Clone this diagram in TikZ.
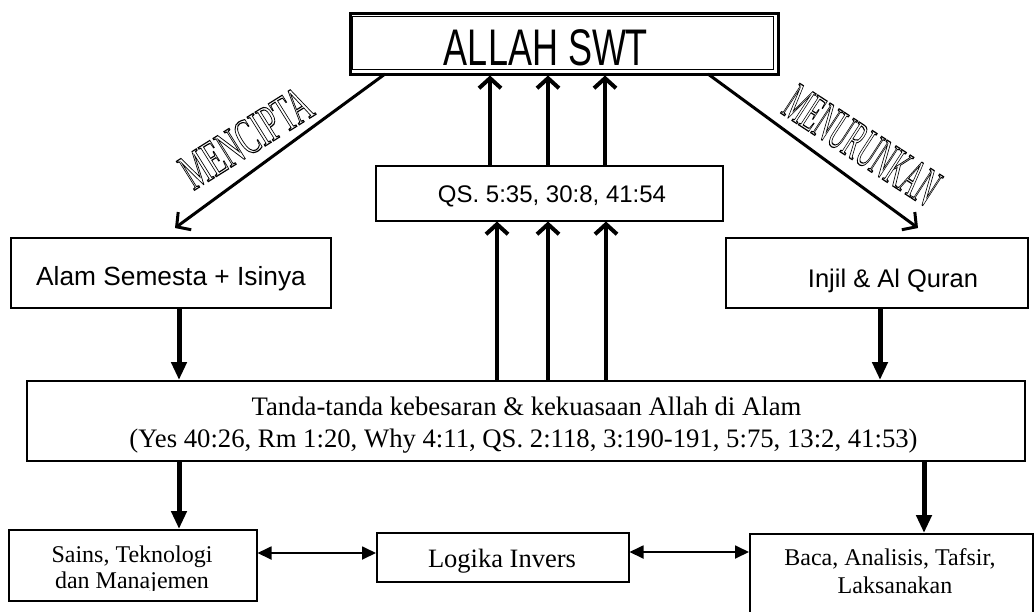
\documentclass[tikz,border=0pt]{standalone}
\usepackage{fontspec}
\setmainfont{Liberation Serif}
\setsansfont{Liberation Sans}
\usetikzlibrary{arrows.meta}
\newcommand{\outltext}[1]{\special{pdf:literal direct 1 Tr 0.9 w}#1\special{pdf:literal direct 0 Tr}}
\begin{document}
\begin{tikzpicture}[x=1pt,y=-1pt,
  box/.style={draw, line width=1.5pt, rectangle, inner sep=0pt, anchor=north west},
  sanstxt/.style={anchor=base, inner sep=0pt, font=\sffamily\fontsize{26.3}{26.3}\selectfont},
  seriftxt/.style={anchor=base, inner sep=0pt, font=\rmfamily\fontsize{24}{24}\selectfont},
  fatarrow/.style={line width=5pt, -{Triangle[length=18pt,width=15pt]}},
  uparrow/.style={line width=4pt, -{Straight Barb[length=10pt,width=22pt]}},
  diagarrow/.style={line width=3pt, -{Straight Barb[length=10pt,width=22pt]}},
  dblarrow/.style={line width=1.8pt, {Triangle[length=14pt,width=13pt]}-{Triangle[length=14pt,width=13pt]}},
  wordart/.style={inner sep=0pt, font=\rmfamily\fontsize{40}{40}\selectfont}
]
\useasboundingbox (0,0) rectangle (1034,611);

% ALLAH SWT double box
\node[box, line width=3pt, minimum width=428pt, minimum height=61pt] (allah) at (348.5,11.5) {};
\node[box, line width=1.2pt, minimum width=421pt, minimum height=53pt] (allahin) at (352,15.5) {};
\node[sanstxt] (allahtxt) at (546,65) {\scalebox{1}[1.43]{\fontsize{36}{36}\selectfont ALLAH SWT}};

% QS box
\node[box, minimum width=347pt, minimum height=55pt] (qs) at (375,165) {};
\node[sanstxt, font=\sffamily\fontsize{24}{24}\selectfont] (qstxt) at (552,202) {QS. 5:35, 30:8, 41:54};

% Alam and Injil
\node[box, minimum width=320pt, minimum height=70pt] (alam) at (10,237) {};
\node[sanstxt] (alamtxt) at (171,285) {Alam Semesta + Isinya};
\node[box, minimum width=302pt, minimum height=70pt] (injil) at (725,237) {};
\node[sanstxt, font=\sffamily\fontsize{25.5}{25.5}\selectfont] (injiltxt) at (893,287) {Injil \& Al Quran};

% Tanda box
\node[box, minimum width=998pt, minimum height=80pt] (tanda) at (26,380) {};
\node[seriftxt, font=\rmfamily\fontsize{26.7}{26.7}\selectfont] (tandaA) at (526.5,415) {Tanda-tanda kebesaran \& kekuasaan Allah di Alam};
\node[seriftxt, font=\rmfamily\fontsize{26.7}{26.7}\selectfont] (tandaB) at (523.5,447) {(Yes 40:26, Rm 1:20, Why 4:11, QS. 2:118, 3:190-191, 5:75, 13:2, 41:53)};

% Bottom boxes
\node[box, minimum width=248pt, minimum height=71pt] (sains) at (8,529) {};
\begin{scope}
  \clip (8,529) rectangle (256,590);
  \node[seriftxt] (sainsA) at (132,562) {Sains, Teknologi};
  \node[seriftxt] (sainsB) at (132,588) {dan Manajemen};
\end{scope}
\node[box, minimum width=252pt, minimum height=49pt] (logika) at (376,532) {};
\node[seriftxt, font=\rmfamily\fontsize{26.5}{26.5}\selectfont] (logikatxt) at (502,567) {Logika Invers};
\node[box, minimum width=283pt, minimum height=95pt] (baca) at (749,533) {};
\node[seriftxt] (bacaA) at (890,565) {Baca, Analisis, Tafsir,};
\node[seriftxt] (bacaB) at (895,593) {Laksanakan};

% x positions of vertical connectors
\coordinate (xl) at (179,0);
\coordinate (xr) at (880,0);
\coordinate (xbr) at (924,0);
\coordinate (u1) at (490,0);
\coordinate (u2) at (548,0);
\coordinate (u3) at (605,0);
\coordinate (l1) at (497,0);
\coordinate (l2) at (548,0);
\coordinate (l3) at (606,0);
\coordinate (mcs) at (385,74);
\coordinate (mce) at (175,228);
\coordinate (mrs) at (708,74);
\coordinate (mre) at (918,228);

% Fat arrows
\draw[fatarrow] (alam.south -| xl) -- (tanda.north -| xl);
\draw[fatarrow] (injil.south -| xr) -- (tanda.north -| xr);
\draw[fatarrow] (tanda.south -| xl) -- (sains.north -| xl);
\draw[fatarrow] (tanda.south -| xbr) -- (baca.north -| xbr);

% Up arrows
\draw[uparrow] (qs.north -| u1) -- (allah.south -| u1);
\draw[uparrow] (qs.north -| u2) -- (allah.south -| u2);
\draw[uparrow] (qs.north -| u3) -- (allah.south -| u3);
\draw[uparrow] (tanda.north -| l1) -- (qs.south -| l1);
\draw[uparrow] (tanda.north -| l2) -- (qs.south -| l2);
\draw[uparrow] (tanda.north -| l3) -- (qs.south -| l3);

% Diagonal arrows
\draw[diagarrow] (mcs) -- (mce);
\draw[diagarrow] (mrs) -- (mre);
\node[wordart, rotate=32] (mencipta) at (246,138) {\scalebox{0.72}[1.3]{\outltext{MENCIPTA}}};
\node[wordart, rotate=-33] (menurunkan) at (862,145) {\scalebox{0.6}[1.35]{\outltext{MENURUNKAN}}};

% Double arrows
\draw[dblarrow] (sains.east |- 0,553) -- (logika.west |- 0,553);
\draw[dblarrow] (logika.east |- 0,552) -- (baca.west |- 0,552);
\end{tikzpicture}
\end{document}
